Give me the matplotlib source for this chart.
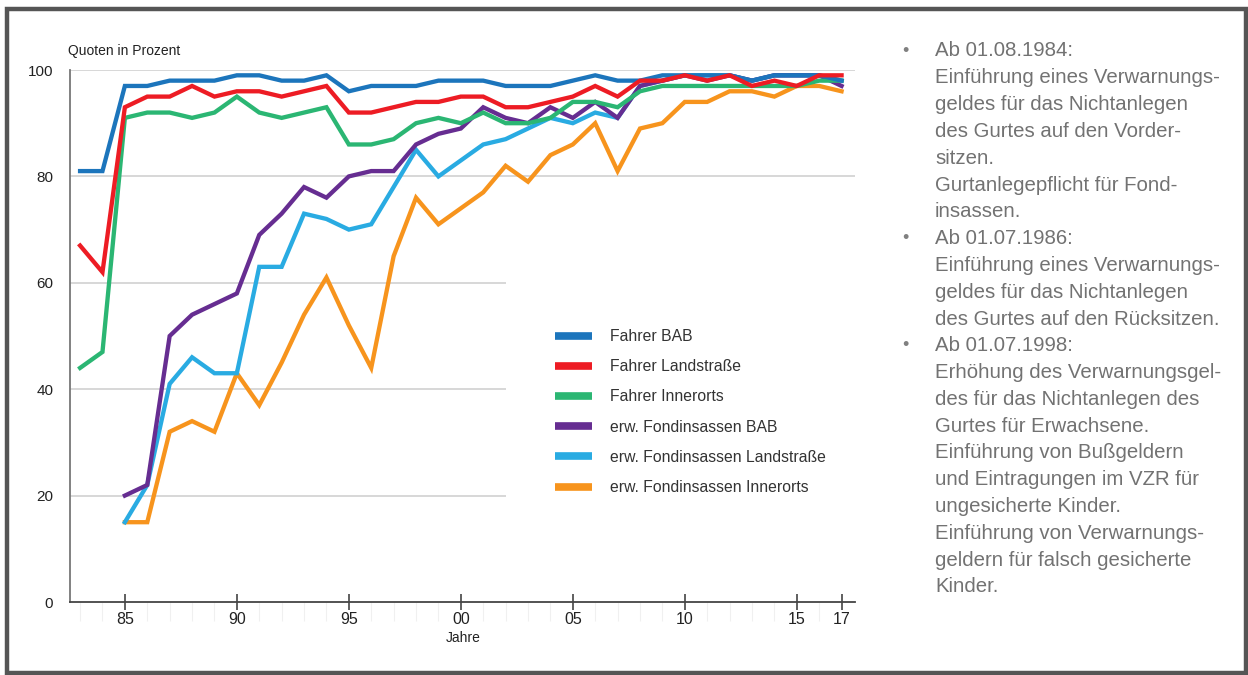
import numpy as np
import matplotlib
matplotlib.use("Agg")
import matplotlib.pyplot as plt
from matplotlib.patches import Rectangle
from matplotlib.lines import Line2D

nan = np.nan
years = list(range(1983, 2018))

fahrer_bab = [81, 81, 97, 97, 98, 98, 98, 99, 99, 98,
              98, 99, 96, 97, 97, 97, 98, 98, 98, 97,
              97, 97, 98, 99, 98, 98, 99, 99, 99, 99,
              98, 99, 99, 99, 98]
fahrer_land = [67, 62, 93, 95, 95, 97, 95, 96, 96, 95,
               96, 97, 92, 92, 93, 94, 94, 95, 95, 93,
               93, 94, 95, 97, 95, 98, 98, 99, 98, 99,
               97, 98, 97, 99, 99]
fahrer_inner = [44, 47, 91, 92, 92, 91, 92, 95, 92, 91,
                92, 93, 86, 86, 87, 90, 91, 90, 92, 90,
                90, 91, 94, 94, 93, 96, 97, 97, 97, 97,
                97, 97, 97, 98, 98]
fond_bab = [nan, nan, 20, 22, 50, 54, 56, 58, 69, 73,
            78, 76, 80, 81, 81, 86, 88, 89, 93, 91,
            90, 93, 91, 94, 91, 97, 98, 99, 98, 99,
            98, 99, 99, 99, 97]
fond_land = [nan, nan, 15, 22, 41, 46, 43, 43, 63, 63,
             73, 72, 70, 71, 78, 85, 80, 83, 86, 87,
             89, 91, 90, 92, 91, 97, 98, 99, 99, 99,
             98, 99, 99, 99, 98]
fond_inner = [nan, nan, 15, 15, 32, 34, 32, 43, 37, 45,
              54, 61, 52, 44, 65, 76, 71, 74, 77, 82,
              79, 84, 86, 90, 81, 89, 90, 94, 94, 96,
              96, 95, 97, 97, 96]

series_labels = ["Fahrer BAB", "Fahrer Landstraße", "Fahrer Innerorts",
                 "erw. Fondinsassen BAB", "erw. Fondinsassen Landstraße",
                 "erw. Fondinsassen Innerorts"]
series_values = [fahrer_bab, fahrer_land, fahrer_inner, fond_bab, fond_land, fond_inner]
series_colors = ["#1c75bc", "#ed1c24", "#2bb673", "#662d91", "#29abe2", "#f7941d"]
# draw order (back to front) roughly as in the reference
draw_order = [5, 4, 3, 2, 0, 1]

xtick_pos = [1985, 1990, 1995, 2000, 2005, 2010, 2015, 2017]
xtick_labels = ["85", "90", "95", "00", "05", "10", "15", "17"]
ytick_pos = [0, 20, 40, 60, 80, 100]
grid_full = [80, 100]
grid_short = [20, 40, 60]
grid_short_end = 2002

notes = [
    (True, "Ab 01.08.1984:"),
    (False, "Einführung eines Verwarnungs-"),
    (False, "geldes für das Nichtanlegen"),
    (False, "des Gurtes auf den Vorder-"),
    (False, "sitzen."),
    (False, "Gurtanlegepflicht für Fond-"),
    (False, "insassen."),
    (True, "Ab 01.07.1986:"),
    (False, "Einführung eines Verwarnungs-"),
    (False, "geldes für das Nichtanlegen"),
    (False, "des Gurtes auf den Rücksitzen."),
    (True, "Ab 01.07.1998:"),
    (False, "Erhöhung des Verwarnungsgel-"),
    (False, "des für das Nichtanlegen des"),
    (False, "Gurtes für Erwachsene."),
    (False, "Einführung von Bußgeldern"),
    (False, "und Eintragungen im VZR für"),
    (False, "ungesicherte Kinder."),
    (False, "Einführung von Verwarnungs-"),
    (False, "geldern für falsch gesicherte"),
    (False, "Kinder."),
]

plt.rcParams['font.family'] = ['Liberation Sans', 'DejaVu Sans']

W, H = 1248, 675
fig = plt.figure(figsize=(W / 100, H / 100), dpi=100)
fig.patch.set_facecolor("white")

def fx(px):
    return px / W

def fy(py):
    return 1 - py / H

ax = fig.add_axes([fx(70), fy(602), fx(855) - fx(70), fy(70) - fy(602)])
ax.set_xlim(1982.55, 2017.6)
ax.set_ylim(0, 100)

for g in grid_full:
    ax.axhline(g, color="#d4d4d4", lw=1.3, zorder=1)
for g in grid_short:
    ax.hlines(g, 1982.55, grid_short_end, color="#d4d4d4", lw=1.3, zorder=1)

for i in draw_order:
    ax.plot(years, series_values[i], color=series_colors[i], lw=3.1,
            solid_joinstyle="miter", zorder=3)

for s in ["top", "right"]:
    ax.spines[s].set_visible(False)
ax.spines["left"].set_color("#777777")
ax.spines["left"].set_linewidth(1.3)
ax.spines["bottom"].set_color("#444444")
ax.spines["bottom"].set_linewidth(1.3)

ax.set_yticks(ytick_pos)
ax.set_yticklabels([str(v) for v in ytick_pos])
ax.tick_params(axis="y", length=0, pad=12, labelsize=11, labelcolor="#222222")
ax.set_xticks(xtick_pos)
ax.set_xticklabels(xtick_labels)
ax.tick_params(axis="x", which="major", direction="inout", length=11, width=1.2,
               color="#444444", pad=2, labelsize=11.5, labelcolor="#222222")
ax.set_xticks(years, minor=True)
ax.tick_params(axis="x", which="minor", direction="out", length=14, width=0.8,
               color="#f0f0f0")

fig.text(fx(68), fy(51), "Quoten in Prozent", fontsize=10, color="#222222",
         ha="left", va="center")
fig.text(fx(463), fy(638), "Jahre", fontsize=10, color="#222222",
         ha="center", va="center")

handles = [Line2D([0], [0], color=c, lw=5.5, solid_capstyle="butt") for c in series_colors]
leg = ax.legend(handles, series_labels, loc="upper left",
                bbox_to_anchor=(fx(555), fy(329)), bbox_transform=fig.transFigure,
                frameon=False, borderpad=0, borderaxespad=0,
                handlelength=2.35, handletextpad=1.15, labelspacing=0.97,
                prop={"size": 11.3})
for t in leg.get_texts():
    t.set_color("#333333")

y0 = 51
step = 26.8
for k, (bullet, line) in enumerate(notes):
    y = y0 + k * step
    if bullet:
        fig.text(fx(905), fy(y), "•", fontsize=13, color="#808080",
                 ha="center", va="center")
    fig.text(fx(935), fy(y), line, fontsize=14.7, color="#727272",
             ha="left", va="center")

fig.patches.append(Rectangle((fx(7), fy(673)), fx(1246) - fx(7), fy(9) - fy(673),
                             transform=fig.transFigure, fill=False,
                             edgecolor="#555555", lw=3.2, zorder=10))

fig.savefig("out.png", dpi=100)
